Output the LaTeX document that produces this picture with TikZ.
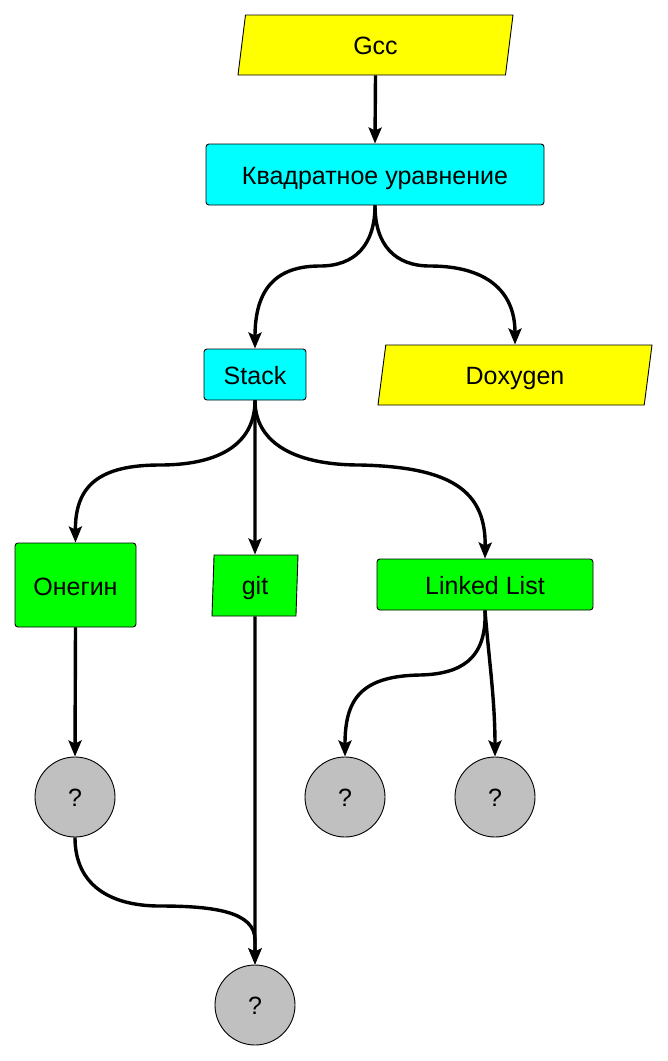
\documentclass[tikz,border=0pt]{standalone}
\usepackage{fontspec}
\setmainfont{Liberation Sans}
\usetikzlibrary{shapes.geometric,arrows.meta}
\definecolor{fillyellow}{HTML}{FFFF00}
\definecolor{fillcyan}{HTML}{00FFFF}
\definecolor{fillgreen}{HTML}{00FF00}
\definecolor{fillgray}{HTML}{C0C0C0}
\begin{document}
\begin{tikzpicture}[x=1pt,y=-1pt,
  every node/.style={font=\fontsize{25}{30}\selectfont, draw=black, line width=0.9pt,
    inner sep=0pt, text height=18pt, text depth=0pt},
  boxnode/.style={rectangle, rounded corners=3pt, minimum width=#1, text height=20pt},
  slantnode/.style={trapezium, trapezium stretches body, trapezium left angle=#1, trapezium right angle=180-#1},
  qnode/.style={circle, fill=fillgray, minimum size=80pt},
  link/.style={line width=3.4pt, -{Stealth[length=16pt,width=13pt,inset=3pt]}}]
\useasboundingbox (0,0) rectangle (668,1061);

% nodes
\node[slantnode=67.4, fill=fillyellow, minimum width=275pt, minimum height=60pt] (gcc) at (375.5,45) {Gcc};
\node[boxnode=338pt, fill=fillcyan, minimum height=61pt] (kv) at (375,174.5) {Квадратное уравнение};
\node[boxnode=102pt, fill=fillcyan, minimum height=51pt] (stack) at (255,374.5) {Stack};
\node[slantnode=66.6, fill=fillyellow, minimum width=274pt, minimum height=60pt] (doxy) at (515,375) {Doxygen};
\node[boxnode=121pt, fill=fillgreen, minimum height=84pt] (onegin) at (75.5,585) {Онегин};
\node[slantnode=83.5, fill=fillgreen, minimum width=86pt, minimum height=61pt] (git) at (255,585.5) {git};
\node[boxnode=216pt, fill=fillgreen, minimum height=51pt] (ll) at (485,584.5) {Linked List};
\node[qnode] (q1) at (75,797) {?};
\node[qnode] (q2) at (345,797) {?};
\node[qnode] (q3) at (495,797) {?};
\node[qnode] (q4) at (255,1005) {?};

% connectors
\draw[link] (gcc.south) -- (kv.north);
\draw[link] (kv.south) .. controls (375,245) and (355,266) .. (320,266)
  .. controls (275,266) and (255,290) .. (stack.north);
\draw[link] (kv.south) .. controls (375,245) and (395,266) .. (430,266)
  .. controls (485,266) and (515,290) .. (doxy.north);
\draw[link] (stack.south) .. controls (255,440) and (225,465) .. (160,465)
  .. controls (100,465) and (75,485) .. (onegin.north);
\draw[link] (stack.south) -- (git.north);
\draw[link] (stack.south) .. controls (255,440) and (290,465) .. (360,465)
  .. controls (450,467) and (486,490) .. (ll.north);
\draw[link] (onegin.south) -- (q1.north);
\draw[link] (ll.south) .. controls (487,660) and (460,674) .. (420,675)
  .. controls (360,676) and (345,700) .. (q2.north);
\draw[link] (ll.south) .. controls (489,660) and (495,700) .. (q3.north);
\draw[link] (q1.south) .. controls (75,885) and (110,906) .. (160,906)
  .. controls (215,906) and (255,912) .. (255,940) -- (q4.north);
\draw[link] (git.south) -- (q4.north);
\end{tikzpicture}
\end{document}
